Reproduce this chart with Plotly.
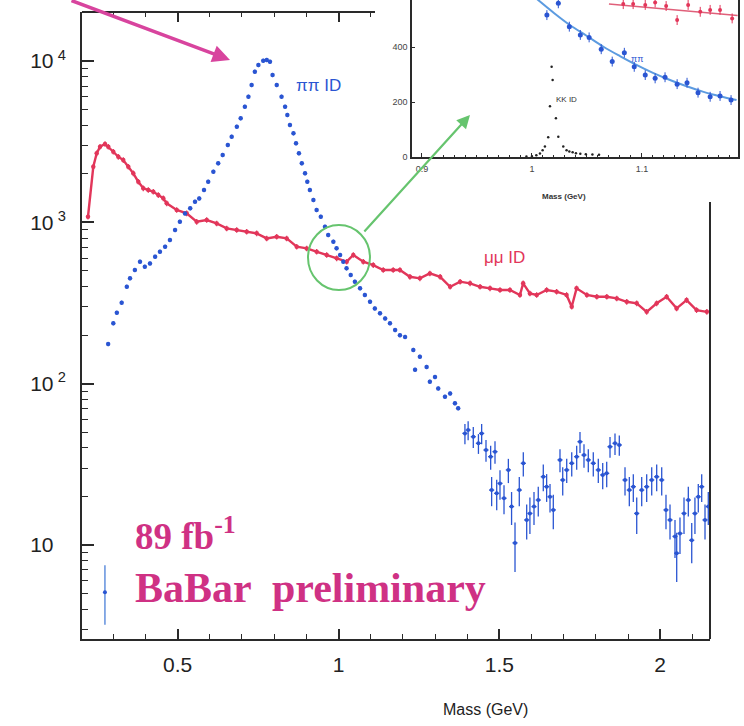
import plotly.graph_objects as go

# ---------------- main panel data ----------------
# pi pi ID (blue), low/mid mass points
pipi_mass = [0.284, 0.300, 0.311, 0.326, 0.342, 0.352, 0.367, 0.383, 0.398, 0.414, 0.430, 0.445,
             0.461, 0.476, 0.492, 0.507, 0.523, 0.539, 0.554, 0.567, 0.582, 0.595, 0.611, 0.626,
             0.640, 0.656, 0.668, 0.684, 0.696, 0.709, 0.720, 0.730, 0.740, 0.751, 0.766, 0.777,
             0.787, 0.795, 0.808, 0.823, 0.834, 0.841, 0.849, 0.860, 0.868, 0.877, 0.886, 0.896,
             0.903, 0.911, 0.922, 0.932, 0.945, 0.958, 0.968, 0.984, 0.994, 1.005, 1.015, 1.025,
             1.038, 1.051, 1.067, 1.082, 1.098, 1.113, 1.129, 1.145, 1.160, 1.176, 1.191, 1.207,
             1.2325, 1.238, 1.253, 1.274, 1.284, 1.300, 1.310, 1.331, 1.347, 1.362, 1.372]
pipi_val = [176, 237, 275, 318, 399, 450, 507, 571, 531, 557, 612, 658,
            706, 778, 897, 1010, 1137, 1222, 1344, 1409, 1589, 1787, 2061, 2323,
            2617, 3019, 3398, 3920, 4417, 5214, 6012, 7108, 8597, 9455, 10050, 10160,
            9910, 8200, 7108, 6012, 5214, 4634, 4018, 3567, 3090, 2680, 2323, 2014,
            1787, 1589, 1377, 1194, 1084, 940, 835, 759, 691, 628, 571, 519,
            472, 429, 390, 355, 322, 293, 273, 254, 237, 215, 200, 195,
            162, 122, 147, 127, 103, 110, 93.5, 83, 87, 75.6, 70.4]

# pi pi ID, high-mass points with visible error bars
pipi_hi_mass = [1.393, 1.403, 1.419, 1.435, 1.445, 1.4585, 1.473, 1.476, 1.4865, 1.4918,
                1.502, 1.5145, 1.528, 1.538, 1.5487, 1.562, 1.5745, 1.585, 1.595, 1.6077,
                1.621, 1.6366, 1.647, 1.6575, 1.6677, 1.6885, 1.697, 1.7094, 1.725, 1.7404,
                1.7507, 1.7631, 1.7765, 1.792, 1.8076, 1.8213, 1.8337, 1.844, 1.8595, 1.8729,
                1.8906, 1.904, 1.9164, 1.927, 1.9425, 1.958, 1.9736, 1.9891, 2.0047, 2.018,
                2.0305, 2.046, 2.0513, 2.0615, 2.074, 2.0874, 2.098, 2.108, 2.1184, 2.129,
                2.1393, 2.1495]
pipi_hi_val = [49.2, 51.6, 46.9, 42.7, 49.2, 38.8, 35.3, 21.9, 37.9, 20.9,
               24.1, 19.5, 29.2, 17.3, 10.3, 21.9, 32.1, 14.3, 15.7, 17.3,
               19.0, 26.5, 23.0, 19.9, 16.5, 33.7, 25.3, 29.2, 32.1, 35.3,
               43.7, 36.1, 33.7, 32.1, 29.2, 27.2, 27.8, 40.7, 42.7, 41.7,
               25.3, 21.9, 23.0, 15.7, 21.9, 23.0, 25.3, 26.5, 25.3, 16.5,
               14.3, 11.3, 8.9, 11.8, 15.7, 19.0, 10.7, 15.7, 19.9, 23.0,
               14.3, 17.3]
pipi_hi_err = [7, 7, 7, 6, 7, 6, 6, 4.5, 6, 4.5,
               5, 4, 5, 4, 3.5, 4.5, 5.5, 3.5, 4, 4,
               4, 5, 4.5, 4, 4, 5.5, 5, 5, 5.5, 6,
               6.5, 6, 5.5, 5.5, 5, 5, 5, 6, 6.5, 6,
               5, 4.5, 4.5, 4, 4.5, 4.5, 5, 5, 5, 4,
               3.5, 3, 3, 3, 4, 4, 3, 4, 4, 4.5,
               3.5, 4]

# lowest-mass pi pi bin (large error bar)
pipi_first_mass = [0.274]
pipi_first_val = [5.1]
pipi_first_err_up = [2.4]
pipi_first_err_dn = [1.9]

# mu mu ID (red)
mumu_mass = [0.2213, 0.2378, 0.2483, 0.2588, 0.2743, 0.2844, 0.3000, 0.3155, 0.3310, 0.3466,
             0.3621, 0.3777, 0.3932, 0.4088, 0.4243, 0.4398, 0.4554, 0.4660, 0.4970, 0.5281,
             0.5592, 0.5903, 0.6214, 0.6525, 0.6836, 0.7146, 0.7457, 0.7768, 0.8079, 0.8390,
             0.8701, 0.9012, 0.9322, 0.9633, 0.9944, 1.0255, 1.046, 1.077, 1.108, 1.139,
             1.170, 1.191, 1.222, 1.253, 1.284, 1.316, 1.347, 1.378, 1.409, 1.440,
             1.471, 1.502, 1.533, 1.564, 1.574, 1.595, 1.616, 1.647, 1.678, 1.709,
             1.725, 1.740, 1.772, 1.803, 1.834, 1.865, 1.896, 1.927, 1.958, 1.989,
             2.020, 2.051, 2.082, 2.113, 2.145]
mumu_val = [1084, 2213, 2680, 2945, 3062, 2945, 2742, 2552, 2436, 2213,
            2014, 1787, 1626, 1588, 1549, 1478, 1410, 1313, 1194, 1138,
            1009, 1035, 986, 918, 897, 875, 855, 796, 815, 796,
            707, 690, 658, 628, 599, 571, 628, 571, 544, 507,
            507, 507, 460, 450, 483, 460, 399, 429, 419, 399,
            390, 381, 381, 355, 419, 363, 355, 381, 372, 355,
            300, 390, 355, 346, 346, 338, 322, 315, 279, 315,
            346, 293, 330, 286, 279]

# ---------------- inset data ----------------
ins_pipi_mass = [1.0136, 1.024, 1.034, 1.044, 1.052, 1.063, 1.073, 1.084, 1.093, 1.103,
                 1.112, 1.121, 1.132, 1.141, 1.151, 1.162, 1.171, 1.181]
ins_pipi_val = [516, 559, 474, 444, 435, 392, 347, 379, 328, 298,
                286, 290, 265, 270, 234, 219, 222, 207]
ins_pipi_fit_mass = [1.000, 1.020, 1.0345, 1.050, 1.065, 1.080, 1.095, 1.110, 1.1255, 1.140,
                     1.156, 1.171, 1.186]
ins_pipi_fit_val = [590, 524, 480, 440, 401, 367, 335, 306, 280, 258, 237, 221, 207]

ins_mumu_mass = [1.083, 1.092, 1.103, 1.112, 1.122, 1.132, 1.142, 1.153, 1.162, 1.171, 1.182]
ins_mumu_val = [556, 556, 553, 562, 549, 498, 553, 528, 535, 535, 504]
ins_mumu_fit_mass = [1.070, 1.130, 1.187]
ins_mumu_fit_val = [556, 535, 515]

ins_kk_mass = [0.995, 1.000, 1.004, 1.0073, 1.0097, 1.0118, 1.0148, 1.0164, 1.0179, 1.0188,
               1.0218, 1.024, 1.0285, 1.0315, 1.034, 1.037, 1.040, 1.044, 1.049, 1.055, 1.061]
ins_kk_val = [2, 3, 6, 13, 25, 38, 72, 185, 328, 280,
              141, 74, 38, 25, 20, 17, 14, 12, 10, 9, 8]

# ticks
main_x_ticks = [0.5, 1, 1.5, 2]
main_x_ticktext = ["0.5", "1", "1.5", "2"]
main_x_minor = [0.3, 0.4, 0.6, 0.7, 0.8, 0.9, 1.1, 1.2, 1.3, 1.4, 1.6, 1.7, 1.8, 1.9, 2.1]
top_x_ticks = [0.5, 1]
top_x_minor = [0.3, 0.4, 0.6, 0.7, 0.8, 0.9, 1.1]
main_y_ticks = [10, 100, 1000, 10000]
main_y_ticktext = ["10<sup><span style='color:white'> 0</span></sup>", "10<sup> 2</sup>",
                   "10<sup> 3</sup>", "10<sup> 4</sup>"]
main_y_minor = [m * 10 ** k for k in range(0, 5) for m in range(2, 10)]
ins_x_ticks = [0.9, 1.0, 1.1]
ins_x_ticktext = ["0.9", "1", "1.1"]
ins_y_ticks = [0, 200, 400]

BLUE = "#2a55d2"
RED = "#e2365a"
MAG = "#cf3184"
GREEN = "#66c46e"
AX = "#2a2a2a"

XR = [0.2027, 2.1548]
XDOM = [0, 0.94864]
YDOM_TOP = 0.98122

fig = go.Figure()

# main traces
fig.add_trace(go.Scatter(x=mumu_mass, y=mumu_val, mode="lines+markers",
                         line=dict(color=RED, width=2.4),
                         marker=dict(color=RED, size=4.5),
                         error_y=dict(type="percent", value=4, color=RED, thickness=1.2, width=0),
                         xaxis="x", yaxis="y", showlegend=False))
fig.add_trace(go.Scatter(x=pipi_mass, y=pipi_val, mode="markers",
                         marker=dict(color=BLUE, size=4.5),
                         error_y=dict(type="percent", value=3, color=BLUE, thickness=1, width=0),
                         xaxis="x", yaxis="y", showlegend=False))
fig.add_trace(go.Scatter(x=pipi_hi_mass, y=pipi_hi_val, mode="markers",
                         marker=dict(color=BLUE, size=4),
                         error_y=dict(type="data", array=pipi_hi_err, color=BLUE, thickness=1.3, width=0),
                         error_x=dict(type="constant", value=0.008, color=BLUE, thickness=1.3, width=0),
                         xaxis="x", yaxis="y", showlegend=False))
fig.add_trace(go.Scatter(x=pipi_first_mass, y=pipi_first_val, mode="markers",
                         marker=dict(color=BLUE, size=4),
                         error_y=dict(type="data", array=pipi_first_err_up, arrayminus=pipi_first_err_dn,
                                      color="#4a7fd8", thickness=1.3, width=0),
                         xaxis="x", yaxis="y", showlegend=False))
# invisible trace carrying the top tick axis
fig.add_trace(go.Scatter(x=pipi_first_mass, y=pipi_first_val, mode="markers",
                         marker=dict(opacity=0), hoverinfo="skip",
                         xaxis="x3", yaxis="y", showlegend=False))

# inset traces
fig.add_trace(go.Scatter(x=ins_pipi_fit_mass, y=ins_pipi_fit_val, mode="lines",
                         line=dict(color="#5c9be0", width=2, shape="spline"),
                         xaxis="x2", yaxis="y2", showlegend=False))
fig.add_trace(go.Scatter(x=ins_mumu_fit_mass, y=ins_mumu_fit_val, mode="lines",
                         line=dict(color="#e0607a", width=1.5),
                         xaxis="x2", yaxis="y2", showlegend=False))
fig.add_trace(go.Scatter(x=ins_pipi_mass, y=ins_pipi_val, mode="markers",
                         marker=dict(color=BLUE, size=5),
                         error_y=dict(type="constant", value=18, color=BLUE, thickness=1, width=0),
                         xaxis="x2", yaxis="y2", showlegend=False))
fig.add_trace(go.Scatter(x=ins_mumu_mass, y=ins_mumu_val, mode="markers",
                         marker=dict(color=RED, size=4),
                         error_y=dict(type="constant", value=18, color=RED, thickness=1, width=0),
                         xaxis="x2", yaxis="y2", showlegend=False))
fig.add_trace(go.Scatter(x=ins_kk_mass, y=ins_kk_val, mode="markers",
                         marker=dict(color="#222222", size=2.5),
                         xaxis="x2", yaxis="y2", showlegend=False))

tickfont_main = dict(family="Liberation Sans, Arial, sans-serif", size=21, color="#222222")
tickfont_ins = dict(family="Liberation Sans, Arial, sans-serif", size=9, color="#444444")

fig.update_layout(
    width=744, height=726,
    margin=dict(l=82, r=0, t=0, b=87),
    paper_bgcolor="white", plot_bgcolor="white",
    xaxis=dict(domain=XDOM, range=XR, anchor="y",
               showgrid=False, zeroline=False, showline=True, linecolor=AX, linewidth=2,
               ticks="inside", ticklen=10, tickwidth=1.5, tickcolor=AX,
               tickmode="array", tickvals=main_x_ticks, ticktext=main_x_ticktext,
               tickfont=tickfont_main, ticklabelstandoff=6,
               minor=dict(tickmode="array", tickvals=main_x_minor, ticks="inside",
                          ticklen=5, tickwidth=1.2, tickcolor=AX, showgrid=False)),
    xaxis3=dict(overlaying="x", side="top", anchor="y", range=XR,
                showgrid=False, zeroline=False, showline=False,
                ticks="inside", ticklen=10, tickwidth=1.5, tickcolor=AX,
                tickmode="array", tickvals=top_x_ticks, showticklabels=False,
                minor=dict(tickmode="array", tickvals=top_x_minor, ticks="inside",
                           ticklen=5, tickwidth=1.2, tickcolor=AX, showgrid=False)),
    yaxis=dict(domain=[0, YDOM_TOP], type="log", range=[0.4172, 4.3044], anchor="x",
               showgrid=False, zeroline=False, showline=True, linecolor=AX, linewidth=2,
               ticks="inside", ticklen=12, tickwidth=1.5, tickcolor=AX,
               tickmode="array", tickvals=main_y_ticks, ticktext=main_y_ticktext,
               tickfont=tickfont_main, ticklabelstandoff=10,
               minor=dict(tickmode="array", tickvals=main_y_minor, ticks="inside",
                          ticklen=6, tickwidth=1.2, tickcolor=AX, showgrid=False)),
    xaxis2=dict(domain=[0.4985, 0.9909], range=[0.891, 1.1873], anchor="y2",
                showgrid=False, zeroline=False, showline=True, linecolor=AX, linewidth=1.5,
                ticks="inside", ticklen=4, tickwidth=1, tickcolor=AX,
                tickmode="array", tickvals=ins_x_ticks, ticktext=ins_x_ticktext,
                tickfont=tickfont_ins, ticklabelstandoff=2,
                minor=dict(dtick=0.01, ticks="inside", ticklen=2, tickwidth=1, tickcolor=AX,
                           showgrid=False)),
    yaxis2=dict(domain=[0.7543, 1.0], range=[0, 571], anchor="x2",
                showgrid=False, zeroline=False, showline=True, linecolor=AX, linewidth=1.5,
                mirror=True, ticks="inside", ticklen=3, tickwidth=1, tickcolor=AX,
                tickmode="array", tickvals=ins_y_ticks,
                tickfont=tickfont_ins, ticklabelstandoff=1),
)

# frame pieces of the main panel (top edge up to the inset, right edge below it)
fig.add_shape(type="line", xref="paper", yref="paper", x0=0, x1=0.4426, y0=YDOM_TOP, y1=YDOM_TOP,
              line=dict(color=AX, width=2))
fig.add_shape(type="line", xref="paper", yref="paper", x0=XDOM[1], x1=XDOM[1], y0=0, y1=0.6839,
              line=dict(color=AX, width=2))

# green circle
fig.add_shape(type="circle", xref="paper", yref="paper", x0=0.3414, x1=0.4350, y0=0.5462, y1=0.6479,
              line=dict(color=GREEN, width=2), layer="above")

ann = [
    dict(text="ππ ID", x=0.3565, y=0.8840, font=dict(color=BLUE, size=17,
         family="Liberation Sans, Arial, sans-serif")),
    dict(text="μμ ID", x=0.6722, y=0.5978, font=dict(color=RED, size=17,
         family="Liberation Sans, Arial, sans-serif")),
    dict(text="<b>89 fb<sup>-1</sup></b>", x=0.077, y=0.1250, xanchor="left",
         font=dict(color=MAG, size=37, family="Liberation Serif, Times New Roman, serif")),
    dict(text="<b>BaBar  preliminary</b>", x=0.077, y=0.0400, xanchor="left",
         font=dict(color=MAG, size=42, family="Liberation Serif, Times New Roman, serif")),
    dict(text="Mass (GeV)", x=0.6767, y=-0.1270,
         font=dict(color="#222222", size=16, family="Liberation Sans Narrow, Liberation Sans, Arial")),
    dict(text="<b>Mass (GeV)</b>", x=0.7644, y=0.7030,
         font=dict(color="#333333", size=8, family="Liberation Sans, Arial")),
    dict(text="ππ", x=0.8505, y=0.9186, font=dict(color=BLUE, size=9, family="Liberation Sans, Arial")),
    dict(text="KK ID", x=0.7508, y=0.8550, font=dict(color="#333333", size=8, family="Liberation Sans, Arial")),
]
for a in ann:
    a.setdefault("xref", "paper")
    a.setdefault("yref", "paper")
    a.setdefault("showarrow", False)
    fig.add_annotation(**a)

# arrows
fig.add_annotation(x=0.2236, y=0.9061, xref="paper", yref="paper", ax=-160, ay=-70,
                   showarrow=True, arrowhead=2, arrowsize=1, arrowwidth=3.5, arrowcolor="#d8449e",
                   text="", standoff=0)
fig.add_annotation(x=0.5861, y=0.8200, xref="paper", yref="paper", ax=-107, ay=118,
                   showarrow=True, arrowhead=2, arrowsize=1.2, arrowwidth=2.2, arrowcolor=GREEN,
                   text="", standoff=0)

fig.write_html("out.html")
